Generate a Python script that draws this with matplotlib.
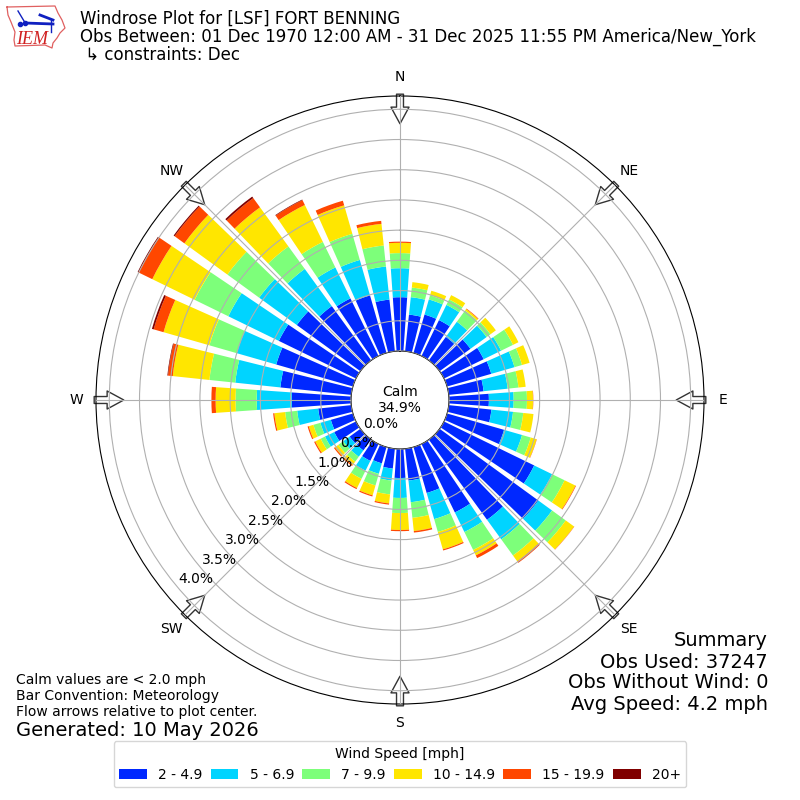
"""Windrose for LSF, December observations, in the IEM layout."""
import matplotlib

matplotlib.use("Agg")
import matplotlib.pyplot as plt
import numpy as np

directions = list(range(0, 360, 10))
compass_angles = [0, 45, 90, 135, 180, 225, 270, 315]
compass_labels = ["N", "NE", "E", "SE", "S", "SW", "W", "NW"]
speed_labels = ["2 - 4.9", "5 - 6.9", "7 - 9.9", "10 - 14.9", "15 - 19.9", "20+"]
speed_colors = ["#0028ff", "#00d4ff", "#7dff7a", "#ffe600", "#ff4700", "#800000"]
radial_ticks = [0.0, 0.5, 1.0, 1.5, 2.0, 2.5, 3.0, 3.5, 4.0]

# percent of observations per direction, one list for each speed bin
speed_2_5 = [0.89, 0.61, 0.66, 0.66, 0.48, 0.63, 0.73, 0.76, 0.58, 0.66, 0.71, 0.98,
             1.66, 2.02, 1.64, 1.26, 0.79, 0.53, 0.48, 0.33, 0.28, 0.31, 0.22, 0.22,
             0.40, 0.38, 0.55, 0.98, 1.18, 1.32, 1.42, 1.30, 1.11, 1.06, 0.99, 0.86]
speed_5_7 = [0.48, 0.29, 0.26, 0.28, 0.31, 0.33, 0.32, 0.40, 0.40, 0.41, 0.36, 0.31,
             0.33, 0.28, 0.40, 0.36, 0.45, 0.36, 0.33, 0.20, 0.18, 0.18, 0.13, 0.13,
             0.17, 0.18, 0.35, 0.58, 0.75, 0.68, 0.93, 0.77, 0.76, 0.57, 0.61, 0.55]
speed_7_10 = [0.25, 0.16, 0.07, 0.10, 0.23, 0.08, 0.22, 0.13, 0.18, 0.22, 0.17, 0.15,
              0.23, 0.28, 0.33, 0.33, 0.22, 0.26, 0.25, 0.23, 0.20, 0.15, 0.10, 0.10,
              0.08, 0.12, 0.20, 0.35, 0.43, 0.47, 0.62, 0.65, 0.46, 0.47, 0.45, 0.35]
speed_10_15 = [0.17, 0.09, 0.08, 0.08, 0.03, 0.11, 0.10, 0.13, 0.12, 0.10, 0.17, 0.10,
               0.20, 0.17, 0.12, 0.10, 0.30, 0.22, 0.28, 0.15, 0.17, 0.17, 0.07, 0.07,
               0.10, 0.08, 0.18, 0.33, 0.61, 0.79, 0.78, 0.88, 0.80, 0.68, 0.49, 0.36]
speed_15_20 = [0.02, 0.0, 0.0, 0.0, 0.01, 0.0, 0.0, 0.0, 0.0, 0.005, 0.0, 0.005,
               0.01, 0.005, 0.03, 0.05, 0.02, 0.025, 0.02, 0.02, 0.02, 0.02, 0.02, 0.02,
               0.02, 0.02, 0.02, 0.07, 0.08, 0.17, 0.25, 0.20, 0.19, 0.09, 0.08, 0.05]
speed_20_up = [0.0, 0.0, 0.0, 0.0, 0.0, 0.0, 0.0, 0.0, 0.0, 0.0, 0.0, 0.0,
               0.0, 0.0, 0.0, 0.0, 0.0, 0.0, 0.0, 0.0, 0.0, 0.0, 0.0, 0.0,
               0.0, 0.0, 0.0, 0.0, 0.01, 0.03, 0.02, 0.02, 0.03, 0.01, 0.0, 0.0]
speed_bins = [speed_2_5, speed_5_7, speed_7_10, speed_10_15, speed_15_20, speed_20_up]


def put_text(x, y, text, **kwargs):
    kwargs.setdefault("va", "center")
    return fig.text(x / 800, 1 - y / 800, text, **kwargs)


fig = plt.figure(figsize=(8, 8), dpi=100)
ax = fig.add_axes([96 / 800, 96 / 800, 608 / 800, 608 / 800], projection="polar")
ax.set_theta_zero_location("N")
ax.set_theta_direction(-1)
ax.set_axisbelow(False)

theta = np.radians(directions)
base = np.zeros(len(directions))
for values, color, label in zip(speed_bins, speed_colors, speed_labels):
    ax.bar(theta, values, width=np.radians(8), bottom=base, color=color,
           linewidth=0, label=label, zorder=2)
    base = base + np.array(values)

ax.set_rorigin(-0.811)
ax.set_ylim(0, 4.22)
ax.set_yticks(radial_ticks)
ax.set_yticklabels([])
ax.set_xticks(np.radians(compass_angles))
ax.set_xticklabels(compass_labels, fontsize=10)
ax.tick_params(axis="x", pad=3.5)
ax.grid(True)

# hollow flow arrows around the rim
for angle in np.radians(compass_angles):
    ax.annotate("", xy=(angle, 3.76), xytext=(angle, 4.25), annotation_clip=False,
                zorder=1,
                arrowprops=dict(facecolor="white", edgecolor="#333333", linewidth=1,
                                width=5, headwidth=13, headlength=12, shrink=0))

# radial labels do not sit on the rings, they drift off along their own line
for value in radial_ticks:
    put_text(381 - 46.25 * value, 424 + 38.75 * value, f"{value:.1f}%",
             ha="center", fontsize=10, zorder=5)

put_text(400, 400, "Calm\n34.9%", ha="center", fontsize=10, zorder=5)

put_text(80, 19, "Windrose Plot for [LSF] FORT BENNING", fontsize=12)
put_text(80, 37, "Obs Between: 01 Dec 1970 12:00 AM - 31 Dec 2025 11:55 PM America/New_York",
         fontsize=12)
put_text(80, 55, " ↳ constraints: Dec", fontsize=12)

put_text(768, 640, "Summary", ha="right", fontsize=14)
put_text(768, 662, "Obs Used: 37247", ha="right", fontsize=14)
put_text(768, 683, "Obs Without Wind: 0", ha="right", fontsize=14)
put_text(768, 705, "Avg Speed: 4.2 mph", ha="right", fontsize=14)

put_text(16, 680, "Calm values are < 2.0 mph", fontsize=10)
put_text(16, 696, "Bar Convention: Meteorology", fontsize=10)
put_text(16, 712, "Flow arrows relative to plot center.", fontsize=10)
put_text(16, 730, "Generated: 10 May 2026", fontsize=14)

handles, labels = ax.get_legend_handles_labels()
fig.legend(handles, labels, title="Wind Speed [mph]", ncol=6, fontsize=10,
           title_fontsize=10, loc="lower center", bbox_to_anchor=(0.5, 0.007),
           columnspacing=0.6)

# rough IEM logo
logo = fig.add_axes([0, 1 - 55 / 800, 75 / 800, 55 / 800])
logo.set_xlim(0, 75)
logo.set_ylim(55, 0)
logo.axis("off")
logo.plot([7, 55, 58, 62, 65, 60, 57, 53, 52, 45, 15, 14, 15, 11, 8, 7],
          [7, 6, 13, 20, 28, 33, 38, 43, 48, 45, 46, 40, 32, 22, 15, 7],
          color="#e06060", linewidth=0.9)
logo.plot([25, 53], [23, 24], color="#1020c0", linewidth=2)
logo.plot([18, 24], [11, 21], color="#1020c0", linewidth=1)
logo.plot([40, 53], [15, 20], color="#1020c0", linewidth=2)
logo.plot([51, 51], [20, 32], color="#1020c0", linewidth=1)
logo.plot([25, 20], [23, 24], "o", color="#1020c0", markersize=3)
logo.text(16, 39, "IEM", color="#d02020", family="Liberation Serif", style="italic",
          fontsize=13, va="center")

fig.savefig("out.png", dpi=100)
